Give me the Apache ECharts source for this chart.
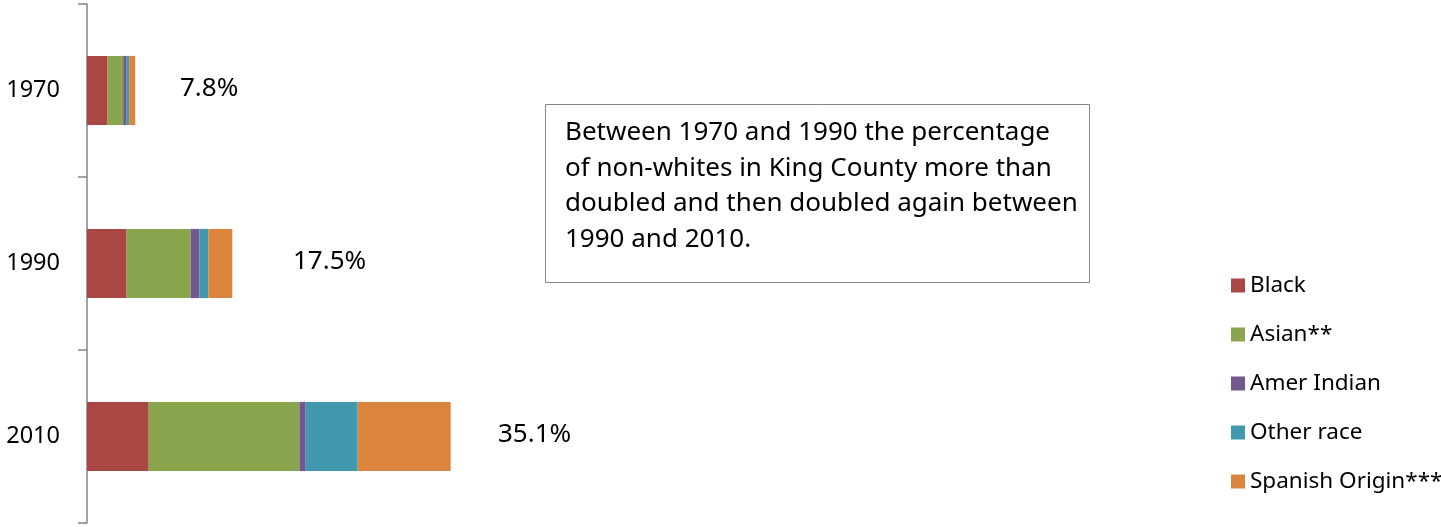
<!DOCTYPE html>
<html><head><meta charset="utf-8">
<script src="https://cdn.jsdelivr.net/npm/echarts@6/dist/echarts.min.js"></script>
<style>html,body{margin:0;padding:0;background:#fff}#c{width:1441px;height:527px}</style>
</head><body><div id="c"></div>
<script>
const years = ['1970', '1990', '2010'];
const black = [2.05, 3.96, 6.17];
const asian = [1.57, 6.40, 15.07];
const amerIndian = [0.30, 0.87, 0.63];
const otherRace = [0.30, 0.90, 5.20];
const spanish = [0.60, 2.40, 9.30];
const totals = ['7.8%', '17.5%', '35.1%'];
const seriesNames = ['Black', 'Asian**', 'Amer Indian', 'Other race', 'Spanish Origin***'];
const note = 'Between 1970 and 1990 the percentage\nof non-whites in King County more than\ndoubled and then doubled again between\n1990 and 2010.';

const colors = ['#AA4643', '#89A54E', '#71588F', '#4198AF', '#DB843D'];
const FONT = 'Noto Sans';
const chart = echarts.init(document.getElementById('c'));
const vals = [black, asian, amerIndian, otherRace, spanish];
const series = seriesNames.map((n, i) => ({
  name: n, type: 'bar', stack: 'total', data: vals[i], barCategoryGap: '60%',
  itemStyle: {color: colors[i]}, silent: true
}));
chart.setOption({
  animation: false,
  color: colors,
  grid: {left: 87, right: 354, top: 4, bottom: 4},
  xAxis: {type: 'value', min: 0, max: 100, show: false},
  yAxis: {
    type: 'category', data: years, inverse: true, boundaryGap: true,
    axisLine: {show: true, lineStyle: {color: '#868686', width: 1.5}},
    axisTick: {show: true, alignWithLabel: false, interval: 0, length: 9, lineStyle: {color: '#868686', width: 1.5}},
    axisLabel: {color: '#000', fontFamily: FONT, fontSize: 23.5, margin: 27}
  },
  legend: {
    orient: 'vertical', left: 1226, top: 269, itemWidth: 14, itemHeight: 14, itemGap: 26,
    icon: 'rect', data: seriesNames,
    textStyle: {color: '#000', fontFamily: FONT, fontSize: 22.5, lineHeight: 22, padding: [0,0,0,0]}
  },
  series: series
});
const labelX = [180, 293, 498];
const graphics = [{
  type: 'rect', left: 545, top: 104, shape: {width: 544, height: 178},
  style: {fill: '#fff', stroke: '#868686', lineWidth: 1}
}, {
  type: 'text', left: 565, top: 115,
  style: {text: note, fontFamily: FONT, fontSize: 26, lineHeight: 35.5, fill: '#000'}
}];
years.forEach((y, i) => {
  const py = chart.convertToPixel({yAxisIndex: 0}, y);
  graphics.push({type: 'text', x: labelX[i], y: py - 2, style: {text: totals[i], fontFamily: FONT, fontSize: 26, fill: '#000', textVerticalAlign: 'middle'}});
});
chart.setOption({graphic: graphics});
</script></body></html>
